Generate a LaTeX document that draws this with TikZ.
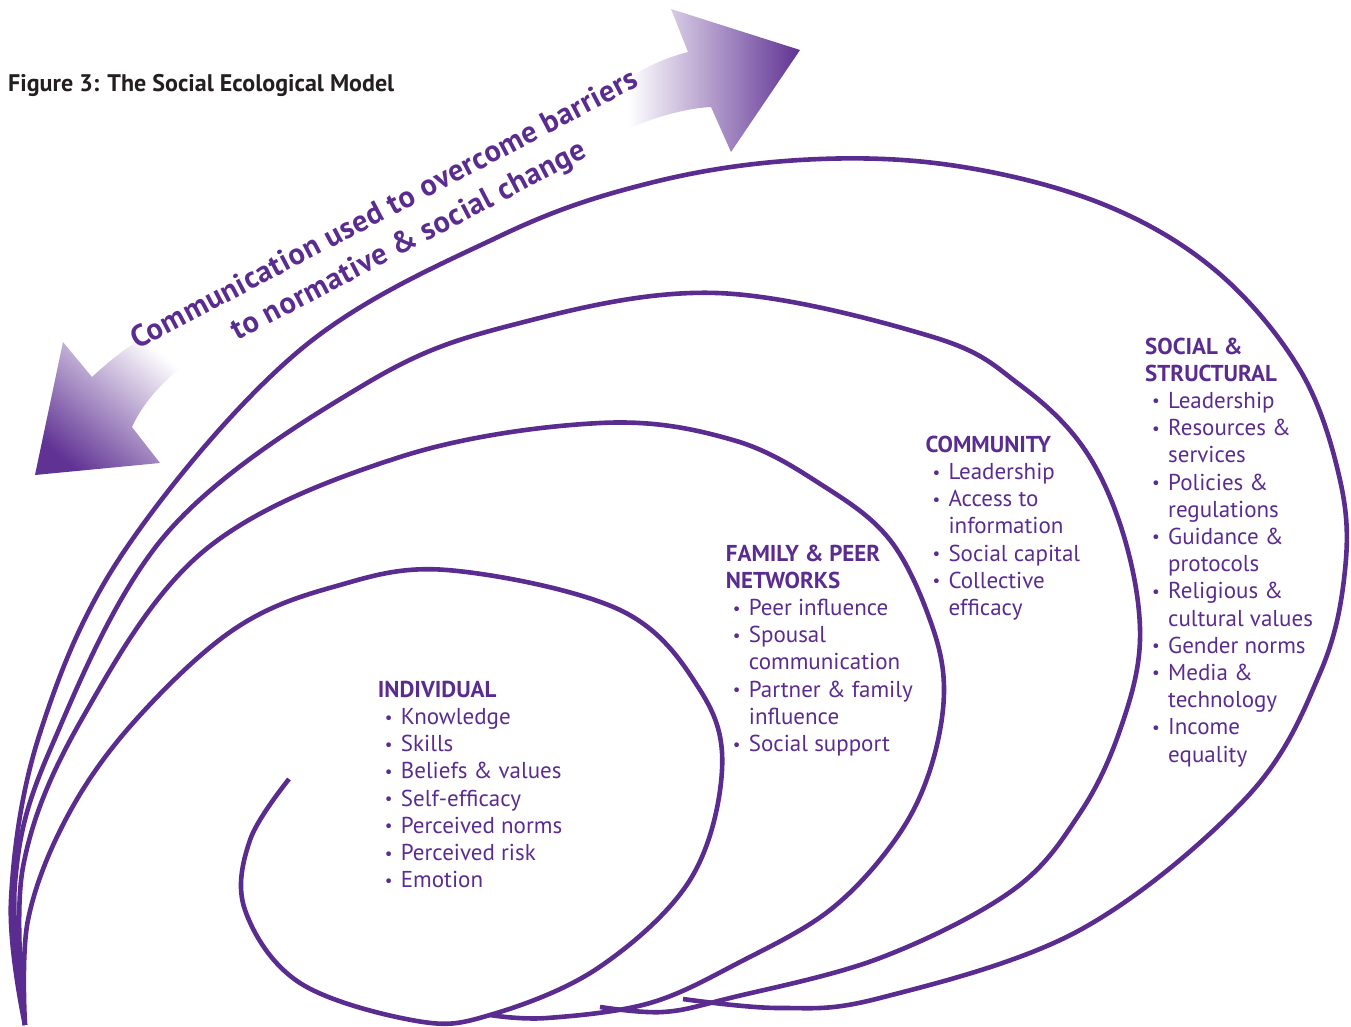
\documentclass[tikz,border=0pt]{standalone}
\usepackage{fontspec}
\setmainfont{PT Sans}
\definecolor{sem}{RGB}{91,44,143}
\definecolor{semarrow}{RGB}{96,50,148}
\definecolor{ttl}{RGB}{35,31,32}
\newcommand\semlist[1]{\vtop{\baselineskip=27.2pt\lineskiplimit=-40pt\lineskip=0pt #1}}
\newcommand\semitem[1]{\hbox{\hbox to 23pt{\hskip 7pt\raisebox{1.5pt}{\fontsize{17}{17}\selectfont\textbullet}\hss}#1}}
\newcommand\semcont[1]{\hbox{\hskip 23pt #1}}
\newcommand\semhead[1]{\hbox{\bfseries #1}}
\begin{document}
\begin{tikzpicture}[x=1pt,y=-1pt,
  curve/.style={draw=sem, line width=4.6pt},
  lst/.style={anchor=base west, inner sep=0pt, text=sem, font=\fontsize{23}{27.2}\selectfont},
  arrowtext/.style={anchor=base west, inner sep=0pt, text=sem, rotate=27.7, font=\bfseries\fontsize{30.5}{36}\selectfont\addfontfeature{LetterSpace=2}}]
\useasboundingbox (0,0) rectangle (1351,1027);

% gradient arrows
\shade[left color=white, right color=semarrow] (800,50) -- (671,9) -- (688,52)
  .. controls (665,58) and (648,66) .. (628,78) -- (630,128)
  .. controls (660,115) and (690,108) .. (711,107) -- (731,152) -- cycle;
\shade[top color=white, bottom color=semarrow, shading angle=-40] (35,475) -- (63,342) -- (92,377)
  .. controls (105,365) and (120,352) .. (142,338) -- (190,362)
  .. controls (162,380) and (142,405) .. (132,427) -- (160,463) -- cycle;

% title and arrow text
\node[anchor=base west, inner sep=0pt, text=ttl, font=\bfseries\fontsize{24}{28}\selectfont] (title) at (8,92) {Figure 3: The Social Ecological Model};
\node[arrowtext] (comm1) at (137,350) {Communication used to overcome barriers};
\node[arrowtext] (comm2) at (237,341) {to normative \& social change};

% curves
\draw[curve] plot[smooth, tension=0.6] coordinates {(25,1025) (11,900) (40,733) (125,550) (300,350) (500,236) (650,183) (800,160) (950,165) (1100,203) (1215,270) (1300,370) (1340,480) (1345,570) (1320,673) (1247,797) (1080,930) (880,998) (780,1008) (683,999)};
\draw[curve] plot[smooth, tension=0.6] coordinates {(25,1025) (15,883) (50,750) (167,533) (367,383) (520,323) (717,293) (933,337) (1020,385) (1085,450) (1125,540) (1140,640) (1120,730) (1080,813) (1013,890) (880,958) (730,998) (663,1012) (600,1007)};
\draw[curve] plot[smooth, tension=0.6] coordinates {(25,1025) (23,867) (83,717) (205,550) (400,457) (600,423) (733,440) (825,487) (890,540) (930,620) (944,690) (930,770) (895,840) (830,910) (740,962) (650,1003) (547,1018) (490,1015)};
\draw[curve] plot[smooth, tension=0.6] coordinates {(289,779) (250,840) (245,910) (300,983) (417,1021) (490,1015) (598,968) (690,880) (722,770) (700,690) (620,610) (447,570) (333,587) (233,630) (133,723) (67,817) (28,920) (25,1025)};

% lists
\node[lst] (indiv) at (377.7,697.3) {\semlist{\semhead{INDIVIDUAL}\semitem{Knowledge}\semitem{Skills}\semitem{Beliefs \& values}\semitem{Self-efficacy}\semitem{Perceived norms}\semitem{Perceived risk}\semitem{Emotion}}};
\node[lst] (family) at (725.7,561.1) {\semlist{\semhead{FAMILY \& PEER}\semhead{NETWORKS}\semitem{Peer influence}\semitem{Spousal}\semcont{communication}\semitem{Partner \& family}\semcont{influence}\semitem{Social support}}};
\node[lst] (community) at (925.3,452.3) {\semlist{\semhead{COMMUNITY}\semitem{Leadership}\semitem{Access to}\semcont{information}\semitem{Social capital}\semitem{Collective}\semcont{efficacy}}};
\node[lst] (social) at (1145,354) {\semlist{\semhead{SOCIAL \&}\semhead{STRUCTURAL}\semitem{Leadership}\semitem{Resources \&}\semcont{services}\semitem{Policies \&}\semcont{regulations}\semitem{Guidance \&}\semcont{protocols}\semitem{Religious \&}\semcont{cultural values}\semitem{Gender norms}\semitem{Media \&}\semcont{technology}\semitem{Income}\semcont{equality}}};
\end{tikzpicture}
\end{document}
